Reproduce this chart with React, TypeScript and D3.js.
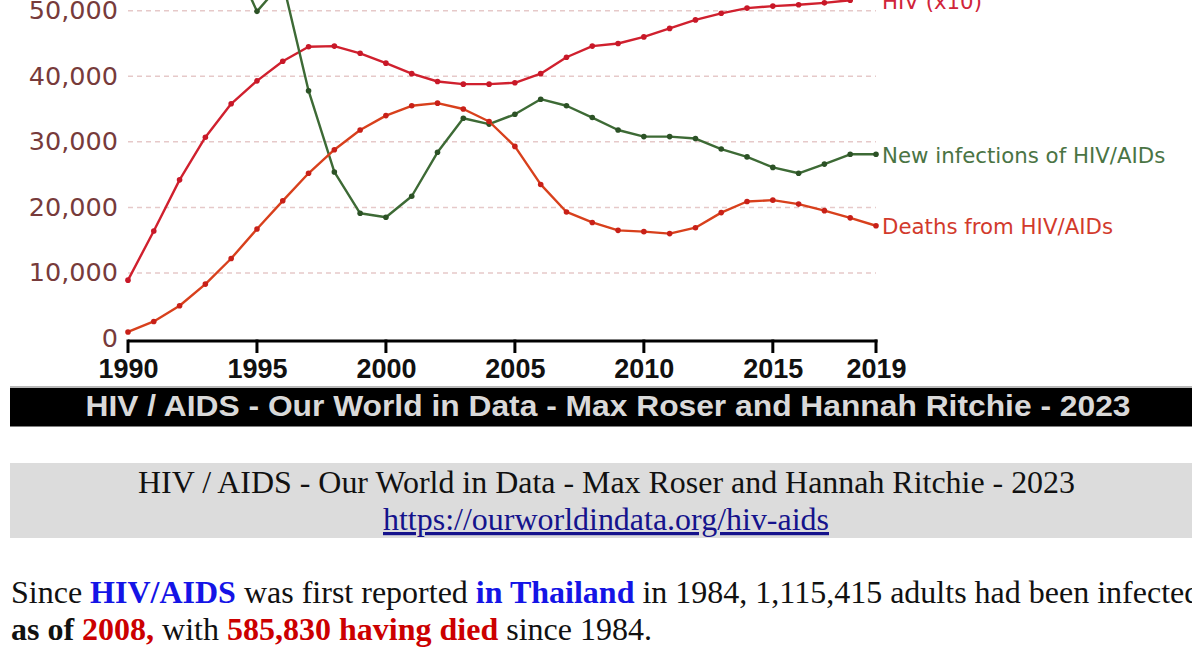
import React from 'react';
import * as d3 from 'd3';

const years = [1990, 1991, 1992, 1993, 1994, 1995, 1996, 1997, 1998, 1999, 2000, 2001, 2002, 2003, 2004, 2005, 2006, 2007, 2008, 2009, 2010, 2011, 2012, 2013, 2014, 2015, 2016, 2017, 2018, 2019];

// People living with HIV (divided by 10) – ends 2018
const hivX10 = [8900, 16400, 24200, 30700, 35800, 39300, 42300, 44500, 44600, 43500, 42000, 40400, 39200, 38800, 38800, 39000, 40400, 42900, 44600, 45000, 46000, 47300, 48600, 49600, 50400, 50700, 50900, 51200, 51600];

const newInfections = [130000, 115000, 95000, 75000, 58600, 49900, 54400, 37800, 25400, 19100, 18500, 21700, 28400, 33600, 32700, 34200, 36500, 35500, 33700, 31800, 30800, 30800, 30500, 28900, 27700, 26100, 25200, 26600, 28100, 28100];

const deaths = [1000, 2600, 5000, 8300, 12200, 16700, 21000, 25200, 28800, 31800, 34000, 35500, 35900, 35000, 33100, 29300, 23500, 19300, 17700, 16500, 16300, 16000, 16900, 19200, 20900, 21100, 20500, 19500, 18400, 17200];

const yTicks = [0, 10000, 20000, 30000, 40000, 50000];
const xTicks = [1990, 1995, 2000, 2005, 2010, 2015, 2019];

const seriesDefs = [
  { name: 'HIV (x10)', values: hivX10, color: '#d0202e', dot: '#c81828', label: '#d0243a' },
  { name: 'New infections of HIV/AIDs', values: newInfections, color: '#3d6a35', dot: '#2c5226', label: '#4a7444' },
  { name: 'Deaths from HIV/AIDs', values: deaths, color: '#d8401c', dot: '#c82018', label: '#d23a2c' },
];

const x = d3.scaleLinear().domain([1990, 2019]).range([128, 876]);
const y = d3.scaleLinear().domain([0, 50000]).range([338.5, 10.7]);
const fmt = d3.format(',');

export default function App() {
  const line = d3
    .line<[number, number]>()
    .x((d) => x(d[0]))
    .y((d) => y(d[1]));

  const sans = "'DejaVu Sans', Verdana, sans-serif";
  const arial = "'Liberation Sans', Arial, sans-serif";
  const serif = "'Liberation Serif', 'Times New Roman', serif";

  return (
    <div style={{ position: 'fixed', left: 0, top: 0, width: 1192, height: 668, overflow: 'hidden', background: '#fff' }}>
      <svg width={1192} height={668} style={{ display: 'block' }}>
        {/* grid */}
        {yTicks.filter((t) => t > 0).map((t) => (
          <line key={t} x1={128} x2={876} y1={y(t)} y2={y(t)} stroke="#e6c9c9" strokeWidth={1.5} strokeDasharray="5,4" />
        ))}
        {/* y labels */}
        {yTicks.map((t) => (
          <text key={t} x={118} y={y(t) + 8.5} textAnchor="end" fontFamily={sans} fontSize={25.5} fill="#773b3b">
            {fmt(t)}
          </text>
        ))}
        {/* series */}
        {seriesDefs.map((s) => {
          const pts: [number, number][] = s.values.map((v, i) => [years[i], v]);
          const last = pts[pts.length - 1];
          return (
            <g key={s.name}>
              <path d={line(pts) || ''} fill="none" stroke={s.color} strokeWidth={2.4} strokeLinejoin="round" />
              {pts.map((p, i) => (
                <circle key={i} cx={x(p[0])} cy={y(p[1])} r={2.8} fill={s.dot} />
              ))}
              <text x={882} y={y(last[1]) + 8.5} fontFamily={sans} fontSize={21.3} fill={s.label}>
                {s.name}
              </text>
            </g>
          );
        })}
        {/* x axis */}
        <line x1={128} x2={877.5} y1={341} y2={341} stroke="#000" strokeWidth={3} />
        {xTicks.map((t) => (
          <g key={t}>
            <line x1={x(t)} x2={x(t)} y1={339.5} y2={353} stroke="#000" strokeWidth={3} />
            <text x={x(t) + 0.5} y={378} textAnchor="middle" fontFamily={arial} fontWeight="bold" fontSize={27} fill="#111">
              {t}
            </text>
          </g>
        ))}
        {/* banner */}
        <rect x={10} y={386} width={1190} height={2} fill="#b8b8b8" />
        <rect x={10} y={388} width={1190} height={38.5} fill="#000" />
        <text x={608} y={416} textAnchor="middle" fontFamily={arial} fontWeight="bold" fontSize={29} fill="#d9d9d9" textLength={1045} lengthAdjust="spacingAndGlyphs">
          HIV / AIDS - Our World in Data - Max Roser and Hannah Ritchie - 2023
        </text>
        {/* caption box */}
        <rect x={10} y={463} width={1190} height={75} fill="#dcdcdc" />
        <text x={606.5} y={493} textAnchor="middle" fontFamily={serif} fontSize={32} fill="#111" textLength={937} lengthAdjust="spacingAndGlyphs">
          HIV / AIDS - Our World in Data - Max Roser and Hannah Ritchie - 2023
        </text>
        <text x={606} y={530} textAnchor="middle" fontFamily={serif} fontSize={32} fill="#15138c" style={{ textDecoration: 'underline' }} textLength={446} lengthAdjust="spacingAndGlyphs">
          https://ourworldindata.org/hiv-aids
        </text>
        {/* paragraph */}
        <text x={11} y={603} fontFamily={serif} fontSize={32} fill="#111">
          <tspan>Since </tspan>
          <tspan fontWeight="bold" fill="#1414e6">HIV/AIDS</tspan>
          <tspan> was first reported </tspan>
          <tspan fontWeight="bold" fill="#1414e6">in Thailand</tspan>
          <tspan> in 1984, 1,115,415 adults had been infected</tspan>
        </text>
        <text x={11} y={640} fontFamily={serif} fontSize={32} fill="#111">
          <tspan fontWeight="bold">as of</tspan>
          <tspan> </tspan>
          <tspan fontWeight="bold" fill="#cc0000">2008,</tspan>
          <tspan> with </tspan>
          <tspan fontWeight="bold" fill="#cc0000">585,830 having died</tspan>
          <tspan> since 1984.</tspan>
        </text>
      </svg>
    </div>
  );
}
